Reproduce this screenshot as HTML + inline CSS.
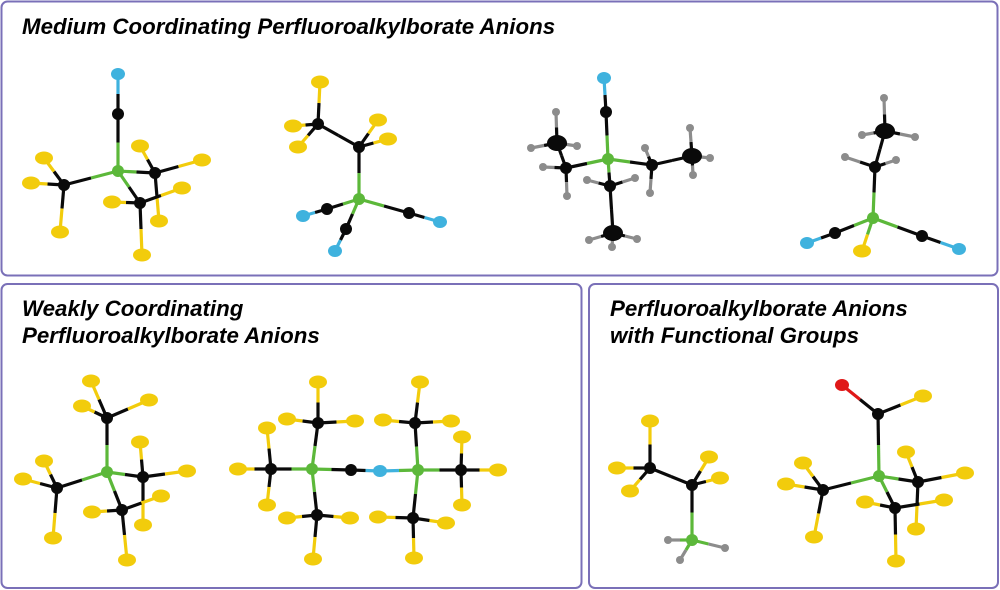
<!DOCTYPE html>
<html><head><meta charset="utf-8"><style>
html,body{margin:0;padding:0;background:#fff;width:1000px;height:590px;overflow:hidden}
svg{display:block}
text{font-family:"Liberation Sans",Arial,sans-serif;font-weight:bold;font-style:italic;font-size:22.3px;fill:#000}
</style></head><body>
<svg id="s" width="1000" height="590" viewBox="0 0 1000 590" xmlns="http://www.w3.org/2000/svg">
<rect x="1.5" y="1.5" width="996" height="274" rx="6" fill="none" stroke="#7a70b8" stroke-width="2"/>
<rect x="1.5" y="284" width="580" height="304" rx="6" fill="none" stroke="#7a70b8" stroke-width="2"/>
<rect x="589" y="284" width="409" height="304" rx="6" fill="none" stroke="#7a70b8" stroke-width="2"/>
<text x="22" y="34">Medium Coordinating Perfluoroalkylborate Anions</text>
<text x="22" y="316">Weakly Coordinating</text>
<text x="22" y="343">Perfluoroalkylborate Anions</text>
<text x="610" y="316">Perfluoroalkylborate Anions</text>
<text x="610" y="343">with Functional Groups</text>
<g id="mol"></g>
</svg>
<script>
var col={F:'#f2cc0c',C:'#0a0a0a',B:'#5cb83a',N:'#3fb2de',H:'#8c8c8c',O:'#e01818'};
var rad={F:[9,6.5],C:[6,6],B:[6,6],N:[7,6],H:[4,4],O:[7,6],M:[10,8]};
var mols=[
[{a:[['N',118,74],['C',118,114],['B',118,171],['C',64,185],['F',44,158],['F',31,183],['F',60,232],['C',155,173],['F',140,146],['F',202,160],['C',140,203],['F',112,202],['F',182,188],['F',159,221],['F',142,255]],
b:[[0,1],[1,2],[2,3],[3,4],[3,5],[3,6],[2,7],[7,8],[7,9],[7,13],[2,10],[10,11],[10,12],[10,14]]}],
[{a:[['C',318,124],['F',320,82],['F',293,126],['F',298,147],['C',359,147],['F',378,120],['F',388,139],['B',359,199],['C',327,209],['N',303,216],['C',346,229],['N',335,251],['C',409,213],['N',440,222]],
b:[[0,1],[0,2],[0,3],[0,4],[4,5],[4,6],[4,7],[7,8],[8,9],[7,10],[10,11],[7,12],[12,13]]}],
[{a:[['N',604,78],['C',606,112],['B',608,159],['C',566,168],['M',557,143],['H',531,148],['H',556,112],['H',577,146],['H',543,167],['H',567,196],['C',610,186],['H',587,180],['H',635,178],['M',613,233],['H',589,240],['H',612,247],['H',637,239],['C',652,165],['H',645,148],['H',650,193],['M',692,156],['H',690,128],['H',710,158],['H',693,175]],
b:[[0,1],[1,2],[2,3],[3,4],[4,5],[4,6],[4,7],[3,8],[3,9],[2,10],[10,11],[10,12],[10,13],[13,14],[13,15],[13,16],[2,17],[17,18],[17,19],[17,20],[20,21],[20,22],[20,23]]}],
[{a:[['H',884,98],['M',885,131],['H',862,135],['H',915,137],['C',875,167],['H',845,157],['H',896,160],['B',873,218],['C',835,233],['N',807,243],['C',922,236],['N',959,249],['F',862,251]],
b:[[0,1],[1,2],[1,3],[1,4],[4,5],[4,6],[4,7],[7,8],[8,9],[7,10],[10,11],[7,12]]}],
[{a:[['B',107,472],['C',107,418],['F',91,381],['F',82,406],['F',149,400],['C',57,488],['F',44,461],['F',23,479],['F',53,538],['C',143,477],['F',140,442],['F',187,471],['C',122,510],['F',92,512],['F',161,496],['F',143,525],['F',127,560]],
b:[[0,1],[1,2],[1,3],[1,4],[0,5],[5,6],[5,7],[5,8],[0,9],[9,10],[9,11],[9,15],[0,12],[12,13],[12,14],[12,16]]}],
[{a:[['B',312,469],['C',318,423],['F',318,382],['F',287,419],['F',355,421],['C',271,469],['F',238,469],['F',267,428],['F',267,505],['C',317,515],['F',287,518],['F',350,518],['F',313,559],['C',351,470],['N',380,471],['B',418,470],['C',415,423],['F',420,382],['F',383,420],['F',451,421],['C',461,470],['F',498,470],['F',462,437],['F',462,505],['C',413,518],['F',378,517],['F',446,523],['F',414,558]],
b:[[0,1],[1,2],[1,3],[1,4],[0,5],[5,6],[5,7],[5,8],[0,9],[9,10],[9,11],[9,12],[0,13],[13,14],[14,15],[15,16],[16,17],[16,18],[16,19],[15,20],[20,21],[20,22],[20,23],[15,24],[24,25],[24,26],[24,27]]}],
[{a:[['C',650,468],['F',650,421],['F',617,468],['F',630,491],['C',692,485],['F',709,457],['F',720,478],['B',692,540],['H',668,540],['H',680,560],['H',725,548]],
b:[[0,1],[0,2],[0,3],[0,4],[4,5],[4,6],[4,7],[7,8],[7,9],[7,10]]}],
[{a:[['O',842,385],['C',878,414],['F',923,396],['B',879,476],['C',823,490],['F',803,463],['F',786,484],['F',814,537],['C',918,482],['F',906,452],['F',965,473],['C',895,508],['F',865,502],['F',944,500],['F',916,529],['F',896,561]],
b:[[0,1],[1,2],[1,3],[3,4],[4,5],[4,6],[4,7],[3,8],[8,9],[8,10],[8,14],[3,11],[11,12],[11,13],[11,15]]}]
];
var g=document.getElementById('mol'),bonds='',atoms='';
function c(t){return col[t==='M'?'C':t];}
mols.forEach(function(m){m=m[0];
 m.b.forEach(function(b){var p=m.a[b[0]],q=m.a[b[1]],mx=(p[1]+q[1])/2,my=(p[2]+q[2])/2;
  bonds+='<line x1="'+p[1]+'" y1="'+p[2]+'" x2="'+mx+'" y2="'+my+'" stroke="'+c(p[0])+'" stroke-width="3.2"/>';
  bonds+='<line x1="'+mx+'" y1="'+my+'" x2="'+q[1]+'" y2="'+q[2]+'" stroke="'+c(q[0])+'" stroke-width="3.2"/>';});
 m.a.forEach(function(a){var r=rad[a[0]];
  atoms+='<ellipse cx="'+a[1]+'" cy="'+a[2]+'" rx="'+r[0]+'" ry="'+r[1]+'" fill="'+c(a[0])+'"/>';});
});
g.innerHTML=bonds+atoms;
</script>
</body></html>
